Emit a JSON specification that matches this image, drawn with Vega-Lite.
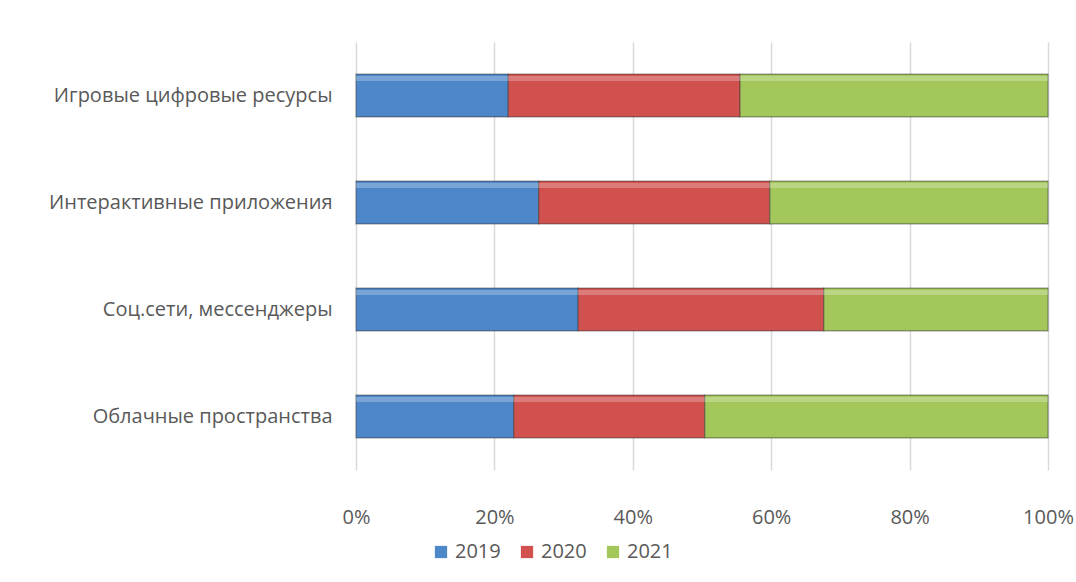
{
  "$schema": "https://vega.github.io/schema/vega-lite/v6.json",
  "autosize": "none",
  "width": 692,
  "height": 428,
  "padding": {"left": 356, "top": 42, "right": 28, "bottom": 112},
  "background": "white",
  "data": {
    "values": [
      {"category": "Игровые цифровые ресурсы", "year": "2019", "value": 22.0},
      {"category": "Игровые цифровые ресурсы", "year": "2020", "value": 33.5},
      {"category": "Игровые цифровые ресурсы", "year": "2021", "value": 44.5},
      {"category": "Интерактивные приложения", "year": "2019", "value": 26.4},
      {"category": "Интерактивные приложения", "year": "2020", "value": 33.4},
      {"category": "Интерактивные приложения", "year": "2021", "value": 40.2},
      {"category": "Соц.сети, мессенджеры", "year": "2019", "value": 32.1},
      {"category": "Соц.сети, мессенджеры", "year": "2020", "value": 35.5},
      {"category": "Соц.сети, мессенджеры", "year": "2021", "value": 32.4},
      {"category": "Облачные пространства", "year": "2019", "value": 22.8},
      {"category": "Облачные пространства", "year": "2020", "value": 27.6},
      {"category": "Облачные пространства", "year": "2021", "value": 49.6}
    ]
  },
  "encoding": {
    "y": {
      "field": "category",
      "type": "nominal",
      "sort": ["Игровые цифровые ресурсы", "Интерактивные приложения", "Соц.сети, мессенджеры", "Облачные пространства"],
      "scale": {"paddingInner": 0.6, "paddingOuter": 0.3},
      "axis": {
        "title": null,
        "domain": false,
        "ticks": false,
        "labelFont": "Open Sans",
        "labelFontSize": 20,
        "labelColor": "#595959",
        "labelPadding": 24,
        "labelLimit": 400
      }
    },
    "x": {
      "field": "value",
      "type": "quantitative",
      "stack": "normalize",
      "scale": {"domain": [0, 1]},
      "axis": {
        "title": null,
        "format": ".0%",
        "values": [0, 0.2, 0.4, 0.6, 0.8, 1],
        "domain": false,
        "ticks": false,
        "grid": true,
        "gridColor": "#d9d9d9",
        "gridWidth": 1.5,
        "labelFont": "Open Sans",
        "labelFontSize": 20,
        "labelColor": "#595959",
        "labelPadding": 37,
        "labelFlush": false
      }
    },
    "order": {"field": "year", "sort": "ascending"}
  },
  "layer": [
    {
      "mark": {"type": "bar", "strokeWidth": 1.2, "strokeOpacity": 0.5, "stroke": "#3a3a3a"},
      "encoding": {
        "color": {
          "field": "year",
          "type": "nominal",
          "scale": {"domain": ["2019", "2020", "2021"], "range": ["#4d87c9", "#d1514e", "#a3c75a"]},
          "legend": {
            "title": null,
            "orient": "none",
            "legendX": 75,
            "legendY": 500,
            "direction": "horizontal",
            "symbolType": "square",
            "symbolSize": 150,
            "symbolStrokeWidth": 0,
            "labelFont": "Open Sans",
            "labelFontSize": 20,
            "labelColor": "#595959",
            "labelOffset": 4,
            "columnPadding": 16
          }
        }
      }
    },
    {
      "mark": {"type": "bar", "height": 5, "yOffset": -17, "fill": "white", "fillOpacity": 0.25, "strokeWidth": 0},
      "encoding": {"detail": {"field": "year"}}
    }
  ],
  "config": {"view": {"stroke": null}}
}
